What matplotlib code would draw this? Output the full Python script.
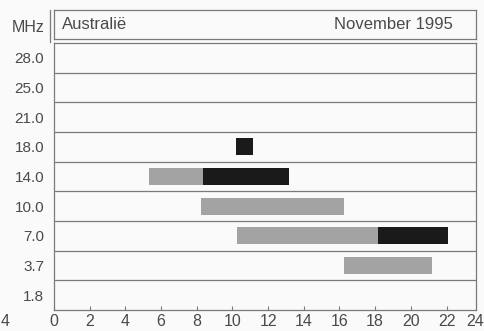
import matplotlib.pyplot as plt
from matplotlib.lines import Line2D

plt.rcParams['font.family'] = ['Liberation Sans', 'DejaVu Sans']

bands = ["28.0", "25.0", "21.0", "18.0", "14.0", "10.0", "7.0", "3.7", "1.8"]

# openings per band: start / end hour (UTC), strength
seg_band = ["18.0", "14.0", "14.0", "10.0", "7.0", "7.0", "3.7"]
seg_start = [10.2, 5.35, 8.35, 8.25, 10.25, 18.15, 16.25]
seg_end = [11.15, 8.35, 13.15, 16.25, 18.15, 22.1, 21.2]
seg_level = ["good", "fair", "good", "fair", "fair", "good", "fair"]

hours = list(range(0, 25, 2))
title_left = "Australië"
title_right = "November 1995"

colors = {"good": "#1a1a1a", "fair": "#a3a3a3"}
txt = "#4a4a4a"
lc = "#7a7a7a"

W, H = 485, 331
def box(l, t, r, b):
    return [l / W, 1 - b / H, (r - l) / W, (b - t) / H]

fig = plt.figure(figsize=(W / 100, H / 100), dpi=100)
fig.patch.set_facecolor("#fafafa")

ax = fig.add_axes(box(54, 43, 476, 310))
hdr = fig.add_axes(box(54, 10, 476, 39))

xmax = 23.65
for b, s, e, lv in zip(seg_band, seg_start, seg_end, seg_level):
    i = bands.index(b)
    ax.barh(i + 0.5, e - s, left=s, height=0.58, color=colors[lv], linewidth=0)

ax.hlines(range(1, len(bands)), 0, xmax, color=lc, lw=0.9)
ax.set_xlim(0, xmax)
ax.set_ylim(len(bands), 0)
ax.set_facecolor("#fafafa")

ax.set_yticks([i + 0.5 for i in range(len(bands))])
ax.set_yticklabels(bands)
ax.tick_params(axis='y', length=0, pad=7, labelsize=11, labelcolor=txt)

ax.set_xticks(hours[:-1])
ax.set_xticklabels([str(h) for h in hours[:-1]])
ax.tick_params(axis='x', direction='in', length=3, width=0.8, color=lc,
               pad=3, labelsize=11.5, labelcolor=txt)
fig.text(484 / W, 1 - 322 / H, str(hours[-1]), ha='right', va='center',
         fontsize=11.5, color=txt)

for sp in ax.spines.values():
    sp.set_color(lc)
    sp.set_linewidth(0.9)

hdr.set_xticks([])
hdr.set_yticks([])
hdr.set_facecolor("#fafafa")
for sp in hdr.spines.values():
    sp.set_color(lc)
    sp.set_linewidth(0.9)
hdr.text(0.02, 0.5, title_left, ha='left', va='center', fontsize=12, color=txt,
         transform=hdr.transAxes)
hdr.text(0.945, 0.5, title_right, ha='right', va='center', fontsize=12, color=txt,
         transform=hdr.transAxes)

fig.text(45 / W, 1 - 27 / H, "MHz", ha='right', va='center', fontsize=11.5, color=txt)
fig.text(0.5 / W, 1 - 322 / H, "4", ha='left', va='center', fontsize=11.5, color=txt)
fig.add_artist(Line2D([50 / W, 50 / W], [1 - 10 / H, 1 - 42 / H], color=lc, lw=0.9))

fig.savefig("out.png", dpi=100, facecolor=fig.get_facecolor())
